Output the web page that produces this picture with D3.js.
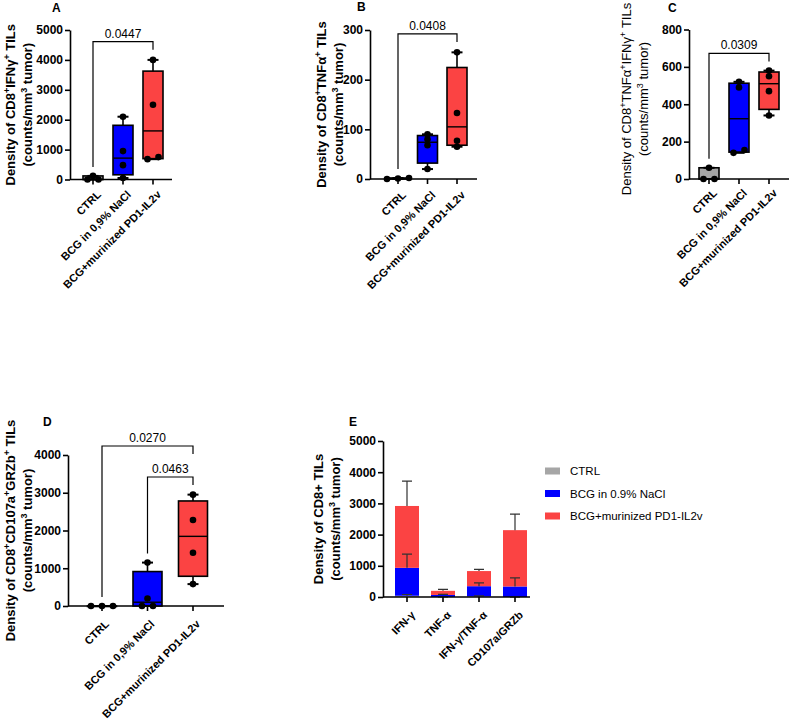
<!DOCTYPE html>
<html>
<head>
<meta charset="utf-8">
<script src="https://cdn.jsdelivr.net/npm/d3@7"></script>
<style>
  body { margin: 0; background: #fff; }
  svg { display: block; font-family: Arial, "Liberation Sans", sans-serif; }
</style>
</head>
<body>
<svg id="chart" width="794" height="724"></svg>
<script>
// groups and per-animal values (A-D)
const groups = ["CTRL", "BCG in 0,9% NaCl", "BCG+murinized PD1-IL2v"];
const legendLabels = ["CTRL", "BCG in 0.9% NaCl", "BCG+murinized PD1-IL2v"];
const markers = ["IFN-γ", "TNF-α", "IFN-γ/TNF-α", "CD107a/GRZb"];

const ifngValues = [[0, 0, 120], [50, 480, 950, 2100], [680, 750, 2500, 4000]];
const tnfaValues = [[0, 1, 2], [20, 68, 80, 90], [65, 77, 133, 255]];
const tnfaIfngValues = [[0, 0, 60], [140, 155, 490, 520], [340, 470, 550, 580]];
const grzbValues = [[0, 0, 0], [0, 0, 200, 1150], [580, 1410, 2280, 2950]];

// p values: [group a, group b, label]
const ifngTests = [[0, 2, "0.0447"]];
const tnfaTests = [[0, 2, "0.0408"]];
const tnfaIfngTests = [[0, 2, "0.0309"]];
const grzbTests = [[0, 2, "0.0270"], [1, 2, "0.0463"]];

const colors = ["#a6a6a6", "#0000ff", "#fb4343"];

const svg = d3.select("#chart");

// GraphPad style quartiles ((n+1) method)
function quant(sorted, p) {
  const n = sorted.length;
  const pos = (n + 1) * p;
  if (pos <= 1) return sorted[0];
  if (pos >= n) return sorted[n - 1];
  const i = Math.floor(pos);
  return sorted[i - 1] + (pos - i) * (sorted[i] - sorted[i - 1]);
}

// spread points with (almost) equal values sideways
function dodge(vals, y, sp) {
  const sorted = vals.slice().sort((a, b) => a - b);
  const clusters = [];
  for (const v of sorted) {
    const last = clusters[clusters.length - 1];
    if (last && Math.abs(y(v) - y(last[last.length - 1])) < 3) last.push(v);
    else clusters.push([v]);
  }
  return clusters.flatMap((c) => c.map((v, i) => ({ v, dx: (i - (c.length - 1) / 2) * sp })));
}

// "{+}" marks a superscript
function addTitleLine(text, str) {
  str.split(/(\{[^}]*\})/).filter((s) => s).forEach((s) => {
    if (s.startsWith("{")) {
      text.append("tspan").attr("baseline-shift", "super").attr("font-size", "9px").text(s.slice(1, -1));
    } else {
      text.append("tspan").text(s);
    }
  });
}

function drawTitle(g, lines, x, cy, weight) {
  lines.forEach((line, i) => {
    const t = g.append("text")
      .attr("transform", `translate(${x + i * 17},${cy}) rotate(-90)`)
      .attr("text-anchor", "middle")
      .attr("font-size", "13px")
      .attr("font-weight", weight)
      .attr("fill", "#000");
    addTitleLine(t, line);
  });
}

function styleAxis(g) {
  g.select(".domain").attr("stroke", "#000").attr("stroke-width", 1.6);
  g.selectAll(".tick line").attr("stroke", "#000").attr("stroke-width", 1.6);
  g.selectAll(".tick text").attr("fill", "#000").attr("font-size", "12px").attr("font-weight", "bold");
}

function drawXLabels(g, x, y0, labels, off) {
  g.selectAll(".xtick").data(labels).join("line")
    .attr("x1", (d) => x(d)).attr("x2", (d) => x(d))
    .attr("y1", y0).attr("y2", y0 + 5)
    .attr("stroke", "#000").attr("stroke-width", 1.6);
  g.selectAll(".xlabel").data(labels).join("text")
    .attr("transform", (d) => `translate(${x(d) + off[0]},${y0 + off[1]}) rotate(-45)`)
    .attr("text-anchor", "end")
    .attr("dy", "0.35em")
    .attr("font-size", "11px")
    .attr("font-weight", "bold")
    .text((d) => d);
}

function drawBoxPanel(cfg) {
  const g = svg.append("g");
  const y = d3.scaleLinear().domain([0, cfg.max]).range([cfg.bottom, cfg.top]);
  const x = d3.scalePoint().domain(groups).range([cfg.x0, cfg.x1]);

  g.append("text").attr("x", cfg.letterX).attr("y", cfg.letterY)
    .attr("font-size", "12px").attr("font-weight", "bold").text(cfg.letter);

  drawTitle(g, cfg.title, cfg.titleX, cfg.titleY ?? (cfg.top + cfg.bottom) / 2, cfg.titleWeight || "bold");

  g.append("g")
    .attr("transform", `translate(${cfg.axisX},0)`)
    .call(d3.axisLeft(y).tickValues(d3.range(0, cfg.max + 1, cfg.step)).tickFormat(d3.format("d"))
      .tickSize(5).tickSizeOuter(0).tickPadding(2))
    .call(styleAxis);

  // x axis
  g.append("line")
    .attr("x1", cfg.axisX).attr("x2", cfg.xEnd)
    .attr("y1", y(0)).attr("y2", y(0))
    .attr("stroke", "#000").attr("stroke-width", 1.6);
  drawXLabels(g, x, y(0), groups, cfg.labelOff);

  cfg.values.forEach((vals, i) => {
    const s = vals.slice().sort((a, b) => a - b);
    const cx = x(groups[i]);
    const q1 = quant(s, 0.25), med = quant(s, 0.5), q3 = quant(s, 0.75);
    const lo = s[0], hi = s[s.length - 1];
    const w = cfg.boxW;
    g.append("line").attr("x1", cx).attr("x2", cx).attr("y1", y(lo)).attr("y2", y(hi))
      .attr("stroke", "#000").attr("stroke-width", 1.6);
    g.append("rect")
      .attr("x", cx - w / 2).attr("width", w)
      .attr("y", y(q3)).attr("height", Math.max(0.5, y(q1) - y(q3)))
      .attr("fill", colors[i]).attr("stroke", "#000").attr("stroke-width", 1.6);
    g.append("line").attr("x1", cx - w / 2).attr("x2", cx + w / 2).attr("y1", y(med)).attr("y2", y(med))
      .attr("stroke", "#000").attr("stroke-width", 1.4);
    [lo, hi].forEach((v) => {
      g.append("line").attr("x1", cx - 5.5).attr("x2", cx + 5.5).attr("y1", y(v)).attr("y2", y(v))
        .attr("stroke", "#000").attr("stroke-width", 2);
    });
    g.selectAll(null).data(dodge(vals, y, 11)).join("circle")
      .attr("cx", (d) => cx + d.dx).attr("cy", (d) => y(d.v)).attr("r", 3.3).attr("fill", "#000");
  });

  cfg.tests.forEach(([a, b, p], k) => {
    const yb = y(cfg.levels[k]);
    const xa = x(groups[a]), xb = x(groups[b]);
    const ya = y(d3.max(cfg.values[a])) - 9;
    g.append("path")
      .attr("d", `M${xa},${ya}V${yb}H${xb}V${yb + 8}`)
      .attr("fill", "none").attr("stroke", "#000").attr("stroke-width", 1.2);
    g.append("text")
      .attr("x", (xa + xb) / 2).attr("y", yb - 4)
      .attr("text-anchor", "middle").attr("font-size", "12px").text(p);
  });
}

const boxPanels = [
  { letter: "A", letterX: 52, letterY: 12, values: ifngValues, tests: ifngTests, levels: [4610],
    title: ["Density of CD8{+}IFNγ{+} TILs", "(counts/mm{3} tumor)"], labelOff: [6, 13],
    max: 5000, step: 1000, axisX: 70, top: 30, bottom: 179.5, x0: 93, x1: 153, xEnd: 172, boxW: 20, titleX: 15 },
  { letter: "B", letterX: 357, letterY: 11, values: tnfaValues, tests: tnfaTests, levels: [292],
    title: ["Density of CD8{+}TNFα{+} TILs", "(counts/mm{3} tumor)"], labelOff: [6, 14],
    max: 300, step: 100, axisX: 370, top: 30, bottom: 179, x0: 398, x1: 457, xEnd: 477, boxW: 20, titleX: 326 },
  { letter: "C", letterX: 668, letterY: 12, values: tnfaIfngValues, tests: tnfaIfngTests, levels: [672],
    title: ["Density of CD8{+}TNFα{+}IFNγ{+} TILs", "(counts/mm{3} tumor)"], titleWeight: "normal", titleY: 99,
    labelOff: [6, 12],
    max: 800, step: 200, axisX: 689, top: 29.5, bottom: 179, x0: 709, x1: 769, xEnd: 789, boxW: 20, titleX: 631 },
  { letter: "D", letterX: 43, letterY: 426, values: grzbValues, tests: grzbTests, levels: [4238, 3417],
    title: ["Density of CD8{+}CD107a{+}GRZb{+} TILs", "(counts/mm{3} tumor)"], labelOff: [5, 16],
    max: 4000, step: 1000, axisX: 68, top: 455, bottom: 606, x0: 102, x1: 193, xEnd: 224, boxW: 29, titleX: 15 }
];
boxPanels.forEach(drawBoxPanel);

// Panel E: stacked means with SEM, from the same values
const markerSets = [ifngValues, tnfaValues, tnfaIfngValues, grzbValues];
const table = markers.map((m, i) => {
  const row = { marker: m };
  groups.forEach((gName, j) => {
    row[gName] = d3.mean(markerSets[i][j]);
    row[gName + "_sem"] = d3.deviation(markerSets[i][j]) / Math.sqrt(markerSets[i][j].length);
  });
  return row;
});
const stacked = d3.stack().keys(groups)(table);

(function drawStacked() {
  const g = svg.append("g");
  const y = d3.scaleLinear().domain([0, 5000]).range([597, 441]);
  const x = d3.scalePoint().domain(markers).range([407, 515]);
  const axisX = 383, barW = 24;

  g.append("text").attr("x", 349).attr("y", 426)
    .attr("font-size", "12px").attr("font-weight", "bold").text("E");
  drawTitle(g, ["Density of CD8+ TILs", "(counts/mm{3} tumor)"], 323, 519, "bold");

  g.append("g")
    .attr("transform", `translate(${axisX},0)`)
    .call(d3.axisLeft(y).tickValues(d3.range(0, 5001, 1000)).tickFormat(d3.format("d"))
      .tickSize(5).tickSizeOuter(0).tickPadding(2))
    .call(styleAxis);

  stacked.forEach((layer, j) => {
    g.selectAll(null).data(layer).join("rect")
      .attr("x", (d) => x(d.data.marker) - barW / 2).attr("width", barW)
      .attr("y", (d) => y(d[1])).attr("height", (d) => y(d[0]) - y(d[1]))
      .attr("fill", colors[j]);
  });
  stacked.forEach((layer) => {
    layer.forEach((d) => {
      const cx = x(d.data.marker);
      const top = d[1] + d.data[layer.key + "_sem"];
      g.append("path")
        .attr("d", `M${cx},${y(d[1])}V${y(top)}M${cx - 5},${y(top)}H${cx + 5}`)
        .attr("stroke", "#333").attr("stroke-width", 1.2).attr("fill", "none");
    });
  });

  g.append("line").attr("x1", axisX).attr("x2", 530).attr("y1", y(0)).attr("y2", y(0))
    .attr("stroke", "#000").attr("stroke-width", 1.6);
  drawXLabels(g, x, y(0), markers, [6, 16]);

  // legend
  const leg = g.selectAll(".leg").data(legendLabels).join("g")
    .attr("transform", (d, i) => `translate(545,${471 + i * 22.5})`);
  leg.append("rect").attr("x", 0).attr("y", -3.5).attr("width", 15).attr("height", 7)
    .attr("fill", (d, i) => colors[i]);
  leg.append("text").attr("x", 25).attr("dy", "0.35em").attr("font-size", "11.5px").text((d) => d);
})();
</script>
</body>
</html>
